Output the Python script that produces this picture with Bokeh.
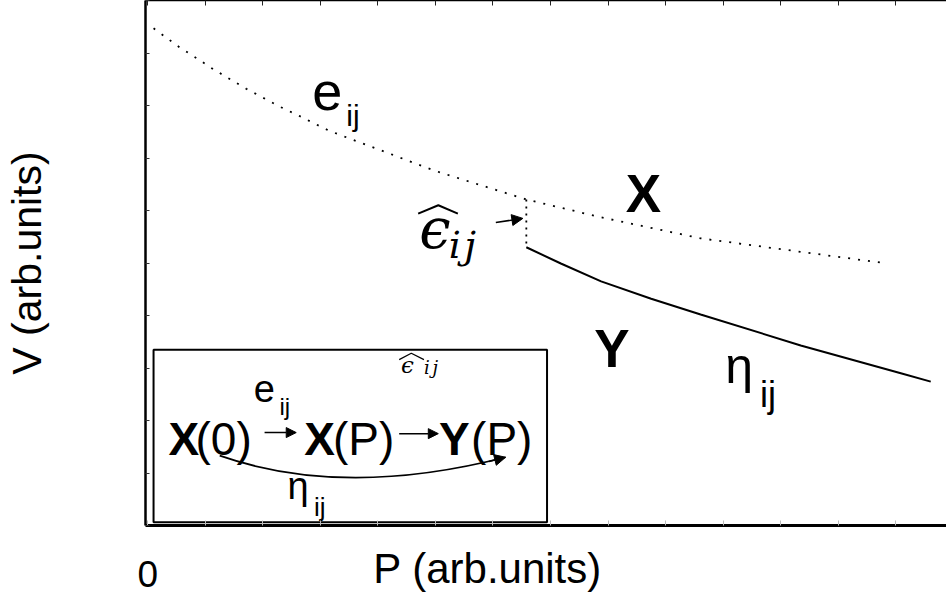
from bokeh.plotting import figure
from bokeh.models import Range1d, LinearAxis, FixedTicker, Arrow, NormalHead
from bokeh.core.properties import value
from bokeh.embed import file_html
from bokeh.resources import INLINE

# ---- data (arbitrary units) ----
# X branch: e_ij (dotted)
P_X = [0.10, 0.55, 0.85, 1.14, 1.71, 2.29, 2.58, 3.15, 4.98, 6.58, 7.88, 9.61, 12.86]
V_X = [9.47, 9.11, 8.90, 8.69, 8.32, 7.98, 7.83, 7.52, 6.76, 6.21, 5.87, 5.47, 4.99]
# Y branch: eta_ij (solid)
P_Y = [6.58, 7.18, 7.88, 8.75, 9.61, 11.35, 13.09, 13.61]
V_Y = [5.30, 4.99, 4.65, 4.32, 4.02, 3.43, 2.90, 2.74]
X_TICKS = list(range(0, 14))
Y_TICKS = list(range(0, 11))
X_TICK_LABELS = {0: "0"}
X_TITLE = "P (arb.units)"
Y_TITLE = "V (arb.units)"

SANS = "Liberation Sans"
SERIF = "DejaVu Serif"
NBSP = "\u00a0"

p = figure(width=946, height=602, output_backend="svg", toolbar_location=None,
           x_range=Range1d(-0.04, 13.884), y_range=Range1d(0, 10.0),
           min_border_left=144, min_border_right=0, min_border_top=0,
           min_border_bottom=77, x_axis_location=None, y_axis_location=None,
           background_fill_color="white", border_fill_color="white",
           outline_line_color=None)
p.xgrid.visible = False
p.ygrid.visible = False

# bottom axis
xb = LinearAxis(ticker=FixedTicker(ticks=X_TICKS),
                major_label_overrides={t: X_TICK_LABELS.get(t, "") for t in X_TICKS},
                axis_label=X_TITLE + NBSP * 10)
xb.axis_line_width = 3
xb.axis_line_color = "black"
xb.major_tick_in = 5
xb.major_tick_out = 0
xb.major_tick_line_color = "#bbbbbb"
xb.minor_tick_line_color = None
xb.major_label_text_font = SANS
xb.major_label_text_font_size = "37px"
xb.major_label_text_color = "black"
xb.major_label_standoff = 35
xb.axis_label_text_font = SANS
xb.axis_label_text_font_size = "42px"
xb.axis_label_text_font_style = "normal"
xb.axis_label_text_color = "black"
xb.axis_label_standoff = -45
p.add_layout(xb, "below")

# top axis
xt = LinearAxis(ticker=FixedTicker(ticks=X_TICKS),
                major_label_overrides={t: "" for t in X_TICKS})
xt.axis_line_width = 1.5
xt.axis_line_color = "black"
xt.major_tick_in = 5
xt.major_tick_out = 0
xt.major_tick_line_color = "#222222"
xt.minor_tick_line_color = None
xt.major_label_text_font_size = "0px"
xt.major_label_standoff = 0
p.add_layout(xt, "above")

# left axis
yl = LinearAxis(ticker=FixedTicker(ticks=Y_TICKS),
                major_label_overrides={t: "" for t in Y_TICKS},
                axis_label=Y_TITLE)
yl.axis_line_width = 2.5
yl.axis_line_color = "black"
yl.major_tick_in = 4
yl.major_tick_out = 0
yl.major_tick_line_color = "#333333"
yl.minor_tick_line_color = None
yl.major_label_text_font_size = "0px"
yl.major_label_standoff = 0
yl.axis_label_text_font = SANS
yl.axis_label_text_font_size = "41px"
yl.axis_label_text_font_style = "normal"
yl.axis_label_text_color = "black"
yl.axis_label_standoff = 96
p.add_layout(yl, "left")

# curves
p.line(P_X, V_X, line_color="black", line_width=1.8, line_dash="2 8")
p.line(P_Y, V_Y, line_color="black", line_width=2)
jump_v = V_X[P_X.index(P_Y[0])]
p.line([P_Y[0], P_Y[0]], [jump_v, V_Y[0]], line_color="black", line_width=1.8, line_dash="2 5")


def txt(x, y, s, size, style="normal", font=SANS):
    p.text(x=[x], y=[y], text=[s], text_font=value(font), text_font_size=value(f"{size}px"),
           text_font_style=style, text_color="black", text_baseline="alphabetic",
           text_align="left", y_offset=-round(0.36 * size))


def arrow(x0, y0, x1, y1, size=10, width=1.5):
    p.add_layout(Arrow(end=NormalHead(size=size, fill_color="black", line_color="black", line_width=1),
                       x_start=x0, y_start=y0, x_end=x1, y_end=y1,
                       line_color="black", line_width=width))


# main-panel annotations
txt(2.86, 7.90, "e", 54)
txt(3.45, 7.60, "ij", 30)
txt(8.31, 5.96, "X", 53, "bold")
txt(7.76, 3.01, "Y", 53, "bold")
txt(10.04, 2.69, "η", 50)
txt(10.64, 2.25, "ij", 36)
txt(4.72, 5.28, "ϵ", 56, "italic", SERIF)
txt(5.23, 5.07, "i", 38, "italic", SERIF)
txt(5.50, 5.07, "j", 38, "italic", SERIF)
p.line([4.70, 5.05, 5.39], [5.94, 6.10, 5.94], line_color="black", line_width=2)
arrow(6.05, 5.77, 6.52, 5.85, size=11)

# inset diagram
p.quad(left=[0.10], right=[6.94], bottom=[0.06], top=[3.35], fill_color="white",
       line_color="black", line_width=2)
txt(0.36, 1.33, "X", 46, "bold")
txt(0.83, 1.33, "(0)", 46)
arrow(2.03, 1.77, 2.58, 1.77)
txt(1.84, 2.34, "e", 38)
txt(2.29, 2.10, "ij", 24)
txt(2.72, 1.33, "X", 46, "bold")
txt(3.22, 1.33, "(P)", 46)
arrow(4.37, 1.75, 5.05, 1.75)
txt(4.40, 2.90, "ϵ", 23, "italic", SERIF)
txt(4.80, 2.90, "i", 18, "italic", SERIF)
txt(4.95, 2.90, "j", 18, "italic", SERIF)
p.line([4.37, 4.58, 4.80], [3.16, 3.28, 3.16], line_color="black", line_width=1.2)
txt(5.06, 1.33, "Y", 46, "bold")
txt(5.62, 1.33, "(P)", 46)
p.quadratic(x0=[1.25], y0=[1.33], x1=[6.22], y1=[1.30], cx=[3.40], cy=[0.51],
            line_color="black", line_width=1.8)
arrow(5.93, 1.22, 6.22, 1.30, size=11)
txt(2.43, 0.48, "η", 38)
txt(2.89, 0.19, "ij", 26)

open("out.html", "w").write(file_html(p, INLINE))
